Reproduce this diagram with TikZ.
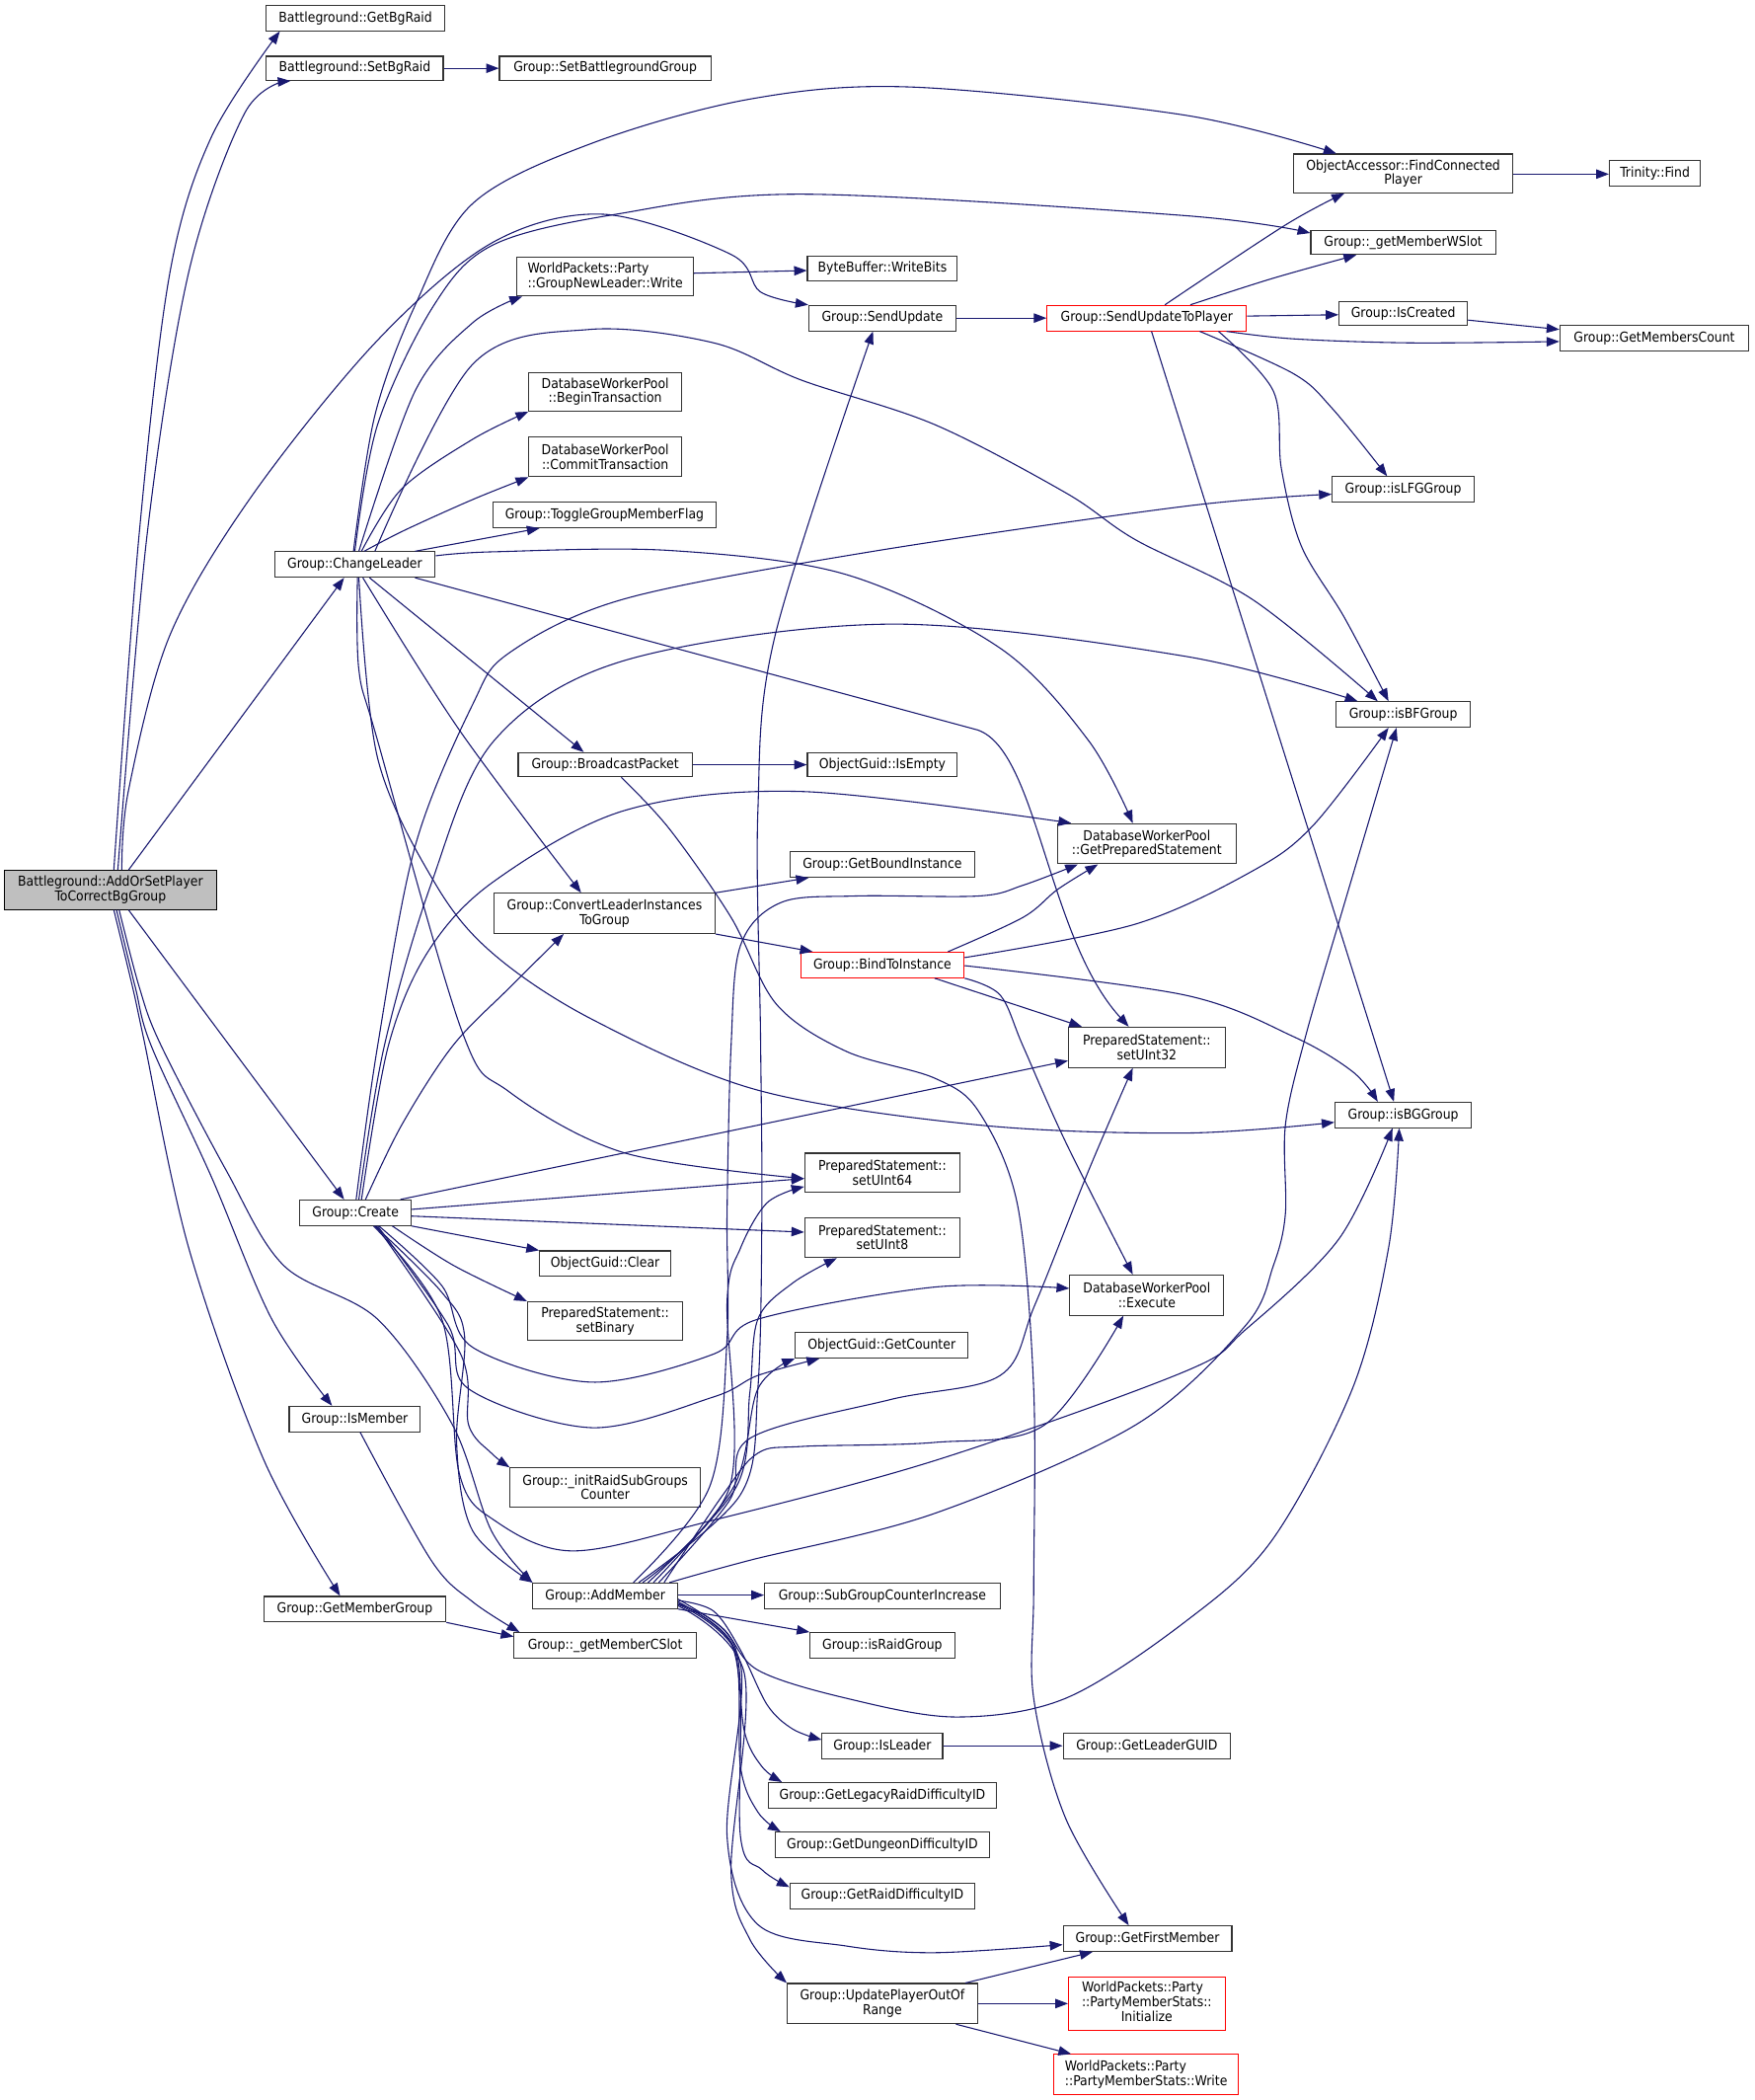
\documentclass[tikz,border=0pt]{standalone}
\usepackage{fontspec}
\newfontfamily\nodefont{DejaVu Sans Condensed}
\usetikzlibrary{arrows.meta}
\definecolor{edgec}{HTML}{191970}
\definecolor{boxc}{HTML}{333333}
\definecolor{rootc}{HTML}{BFBFBF}
\newcommand\mkbox[7][]{\node[box,#1,minimum width={(#5-#3)*1pt},minimum height={(#6-#4)*1pt}] (#2) at ({(#3+#5)/2},{(#4+#6)/2}) {#7};}
\tikzset{
  box/.style={draw=boxc, line width=0.8pt, fill=white, inner sep=0pt, align=center,
    font=\nodefont\fontsize{10.2}{10.8}\selectfont},
  redbox/.style={draw=red},
  rootbox/.style={fill=rootc, draw=black},
  cedge/.style={draw=edgec, line width=0.8pt, -{Triangle[length=9.5pt,width=7pt]}},
  sm/.style={smooth, tension=0.55}
}
\begin{document}
\begin{tikzpicture}[x=1pt,y=-1pt]
\fill[white] (0,0) rectangle (1310,1568);
\useasboundingbox (0,0) rectangle (1310,1568);
% ---------------- nodes ----------------
\mkbox{getbg}{199}{4}{332}{23}{Battleground::GetBgRaid}
\mkbox{setbg}{199}{42}{331}{60}{Battleground::SetBgRaid}
\mkbox{setbgg}{373}{42}{531}{60}{Group::SetBattlegroundGroup}
\mkbox{fcp}{966}{115}{1130}{144}{ObjectAccessor::FindConnected\\Player}
\mkbox{find}{1202}{120}{1270}{139}{Trinity::Find}
\mkbox{wslot}{979}{172}{1117}{190}{Group::\_getMemberWSlot}
\mkbox[align=left]{gnl}{386}{192}{518}{221}{WorldPackets::Party\\::GroupNewLeader::Write}
\mkbox{wbits}{603}{191}{715}{210}{ByteBuffer::WriteBits}
\mkbox{supd}{604}{228}{714}{247}{Group::SendUpdate}
\mkbox[redbox]{sutp}{782}{228}{931}{247}{Group::SendUpdateToPlayer}
\mkbox{created}{1000}{225}{1096}{243}{Group::IsCreated}
\mkbox{mcount}{1165}{243}{1306}{262}{Group::GetMembersCount}
\mkbox{begin}{395}{278}{509}{307}{DatabaseWorkerPool\\::BeginTransaction}
\mkbox{commit}{395}{326}{509}{356}{DatabaseWorkerPool\\::CommitTransaction}
\mkbox{toggle}{368}{375}{535}{394}{Group::ToggleGroupMemberFlag}
\mkbox{lfg}{995}{356}{1101}{375}{Group::isLFGGroup}
\mkbox{cl}{205}{412}{325}{431}{Group::ChangeLeader}
\mkbox{bf}{998}{524}{1098}{543}{Group::isBFGroup}
\mkbox{bcast}{387}{562}{517}{580}{Group::BroadcastPacket}
\mkbox{isempty}{603}{562}{715}{580}{ObjectGuid::IsEmpty}
\mkbox{gps}{790}{615}{923}{645}{DatabaseWorkerPool\\::GetPreparedStatement}
\mkbox{gbi}{590}{636}{728}{655}{Group::GetBoundInstance}
\mkbox[rootbox]{root}{3}{650}{162}{679}{Battleground::AddOrSetPlayer\\ToCorrectBgGroup}
\mkbox{conv}{369}{667}{534}{697}{Group::ConvertLeaderInstances\\ToGroup}
\mkbox[redbox]{bti}{598}{711}{720}{730}{Group::BindToInstance}
\mkbox{u32}{798}{767}{915}{797}{PreparedStatement::\\setUInt32}
\mkbox{bg}{997}{823}{1099}{842}{Group::isBGGroup}
\mkbox{u64}{601}{861}{717}{890}{PreparedStatement::\\setUInt64}
\mkbox{create}{224}{896}{307}{915}{Group::Create}
\mkbox{u8}{601}{909}{717}{939}{PreparedStatement::\\setUInt8}
\mkbox{clear}{403}{934}{501}{953}{ObjectGuid::Clear}
\mkbox{exec}{799}{952}{914}{982}{DatabaseWorkerPool\\::Execute}
\mkbox{binary}{394}{972}{510}{1001}{PreparedStatement::\\setBinary}
\mkbox{counter}{594}{995}{723}{1014}{ObjectGuid::GetCounter}
\mkbox{ismember}{216}{1050}{314}{1069}{Group::IsMember}
\mkbox{initraid}{381}{1096}{523}{1125}{Group::\_initRaidSubGroups\\Counter}
\mkbox{addm}{398}{1182}{506}{1201}{Group::AddMember}
\mkbox{subinc}{571}{1182}{747}{1201}{Group::SubGroupCounterIncrease}
\mkbox{getmg}{197}{1192}{333}{1211}{Group::GetMemberGroup}
\mkbox{cslot}{384}{1219}{520}{1238}{Group::\_getMemberCSlot}
\mkbox{raid}{605}{1219}{713}{1238}{Group::isRaidGroup}
\mkbox{isleader}{614}{1294}{704}{1313}{Group::IsLeader}
\mkbox{leaderguid}{794}{1294}{919}{1313}{Group::GetLeaderGUID}
\mkbox{legacy}{574}{1331}{744}{1350}{Group::GetLegacyRaidDifficultyID}
\mkbox{dungeon}{579}{1368}{739}{1387}{Group::GetDungeonDifficultyID}
\mkbox{raiddiff}{590}{1406}{728}{1425}{Group::GetRaidDifficultyID}
\mkbox{firstm}{794}{1438}{920}{1457}{Group::GetFirstMember}
\mkbox{upoor}{588}{1481}{730}{1511}{Group::UpdatePlayerOutOf\\Range}
\mkbox[redbox]{init}{798}{1476}{915}{1516}{\begin{tabular}{@{}l@{}}WorldPackets::Party\\::PartyMemberStats::\\\multicolumn{1}{@{}c@{}}{Initialize}\end{tabular}}
\mkbox[redbox,align=left]{pmsw}{787}{1534}{925}{1564}{WorldPackets::Party\\::PartyMemberStats::Write}
% ---------------- edges: root ----------------
\draw[cedge] plot[sm] coordinates {(85,0 |- root.north) (104,398) (127,203) (158,102) (209,0 |- getbg.south)};
\draw[cedge] plot[sm] coordinates {(88,0 |- root.north) (110,398) (141,203) (183,84) (217,0 |- setbg.south)};
\draw[cedge] plot[sm] coordinates {(91,0 |- root.north) (96,590) (127,474) (189,369) (282,254) (368,181) (451,160) (546,190) (568,218) (supd.north west)};
\draw[cedge] (96,0 |- root.north) -- (257,0 |- cl.south);
\draw[cedge] (96,0 |- root.south) -- (257,0 |- create.north);
\draw[cedge] plot[sm] coordinates {(87,0 |- root.south) (101,737) (113,781) (158,879) (203,985) (248,0 |- ismember.north)};
\draw[cedge] plot[sm] coordinates {(89,0 |- root.south) (104,737) (120,780) (169,874) (212,945) (282,985) (338,1064) (367,1143) (addm.north west)};
\draw[cedge] plot[sm] coordinates {(85,0 |- root.south) (99,737) (107,774) (141,932) (197,1090) (254,0 |- getmg.north)};
% ---------------- edges: ChangeLeader ----------------
\draw[cedge] plot[sm] coordinates {(264,0 |- cl.north) (280,310) (310,228) (353,152) (442,107) (560,74) (681,65) (885,86) (998,0 |- fcp.north)};
\draw[cedge] plot[sm] coordinates {(265,0 |- cl.north) (282,317) (324,228) (368,183) (460,160) (599,145) (885,161) (wslot.west |- 0,174)};
\draw[cedge] plot[sm] coordinates {(268,0 |- cl.north) (310,292) (353,241) (390,0 |- gnl.south)};
\draw[cedge] plot[sm] coordinates {(270,0 |- cl.north) (300,365) (353,328) (begin.south west)};
\draw[cedge] plot[sm] coordinates {(272,0 |- cl.north) (302,396) (353,373) (commit.south west)};
\draw[cedge] (310,0 |- cl.north) -- (403,0 |- toggle.south);
\draw[cedge] plot[sm] coordinates {(cl.east |- 0,415) (369,412) (500,411) (632,429) (747,484) (813,553) (846,0 |- gps.north)};
\draw[cedge] (310,0 |- cl.south) -- (730,545) .. controls (775,560) and (782,700) .. (843,0 |- u32.north);
\draw[cedge] (276,0 |- cl.south) -- (436,0 |- bcast.north);
\draw[cedge] plot[sm] coordinates {(271,0 |- cl.south) (343,545) (434,0 |- conv.north)};
\draw[cedge] plot[sm] coordinates {(267,0 |- cl.south) (268,500) (282,553) (345,770) (380,815) (467,861) (u64.west |- 0,880)};
\draw[cedge] plot[sm] coordinates {(268,0 |- cl.south) (282,566) (324,658) (367,711) (442,761) (566,814) (731,840) (885,846) (bg.west |- 0,838)};
\draw[cedge] plot[sm] coordinates {(280,0 |- cl.north) (353,272) (440,246) (533,256) (599,284) (698,317) (796,368) (848,403) (936,448) (1029,0 |- bf.north)};
% ---------------- edges: Create ----------------
\draw[cedge] plot[sm] coordinates {(266,0 |- create.north) (282,781) (310,632) (353,526) (381,487) (467,447) (650,412) (885,378) (lfg.west |- 0,369)};
\draw[cedge] plot[sm] coordinates {(268,0 |- create.north) (287,781) (322,660) (369,553) (467,493) (665,466) (885,490) (1014,0 |- bf.north)};
\draw[cedge] plot[sm] coordinates {(270,0 |- create.north) (290,781) (320,710) (369,658) (467,605) (599,591) (800,0 |- gps.north)};
\draw[cedge] plot[sm] coordinates {(273,0 |- create.north) (300,840) (338,781) (381,737) (421,0 |- conv.south)};
\draw[cedge] (299,0 |- create.north) -- (u32.west |- 0,792);
\draw[cedge] (create.east |- 0,903) -- (u64.west |- 0,880);
\draw[cedge] (create.east |- 0,908) -- (u8.west |- 0,920);
\draw[cedge] (create.south east) -- (clear.north west);
\draw[cedge] plot[sm] coordinates {(293,0 |- create.south) (339,945) (binary.north west)};
\draw[cedge] plot[sm] coordinates {(283,0 |- create.south) (330,960) (353,1006) (442,1032) (533,1011) (566,985) (698,961) (exec.west |- 0,962)};
\draw[cedge] plot[sm] coordinates {(282,0 |- create.south) (335,990) (350,1037) (442,1066) (533,1043) (566,1027) (612,0 |- counter.south)};
\draw[cedge] plot[sm] coordinates {(281,0 |- create.south) (344,1011) (350,1064) (367,1085) (initraid.north west)};
\draw[cedge] plot[sm] coordinates {(280,0 |- create.south) (330,965) (347,998) (341,1077) (353,1143) (addm.north west)};
\draw[cedge] plot[sm] coordinates {(279,0 |- create.south) (330,985) (343,1100) (369,1135) (428,1158) (533,1135) (700,1090) (885,1024) (930,993) (1000,925) (1040,0 |- bg.south)};
% ---------------- edges: SendUpdateToPlayer ----------------
\draw[cedge] plot[sm] coordinates {(870,0 |- sutp.north) (960,168) (1004,0 |- fcp.south)};
\draw[cedge] plot[sm] coordinates {(889,0 |- sutp.north) (950,208) (1013,0 |- wslot.south)};
\draw[cedge] (sutp.east |- 0,236) -- (created.west |- 0,235);
\draw[cedge] plot[sm] coordinates {(916,0 |- sutp.south) (966,253) (1054,256) (mcount.west |- 0,255)};
\draw[cedge] plot[sm] coordinates {(896,0 |- sutp.south) (966,279) (995,305) (1036,0 |- lfg.north)};
\draw[cedge] plot[sm] coordinates {(910,0 |- sutp.south) (951,292) (957,350) (972,408) (1004,461) (1037,0 |- bf.north)};
\draw[cedge] (860,0 |- sutp.south) -- (1041,0 |- bg.north);
% ---------------- edges: BindToInstance ----------------
\draw[cedge] plot[sm] coordinates {(708,0 |- bti.north) (764,685) (790,664) (820,0 |- gps.south)};
\draw[cedge] plot[sm] coordinates {(bti.east |- 0,715) (848,690) (936,650) (981,616) (1037,0 |- bf.south)};
\draw[cedge] plot[sm] coordinates {(bti.east |- 0,721) (885,743) (966,774) (1010,800) (1029,0 |- bg.north)};
\draw[cedge] (698,0 |- bti.south) -- (808,0 |- u32.north);
\draw[cedge] plot[sm] coordinates {(bti.south east) (747,743) (764,781) (796,853) (846,0 |- exec.north)};
% ---------------- edges: misc ----------------
\draw[cedge] (conv.north east) -- (604,0 |- gbi.south);
\draw[cedge] (conv.south east) -- (607,0 |- bti.north);
\draw[cedge] (bcast.east) -- (isempty.west);
\draw[cedge] plot[sm] coordinates {(464,0 |- bcast.south) (500,619) (546,685) (580,750) (632,785) (698,805) (731,830) (760,900) (772,1037) (772,1187) (772,1268) (796,1358) (843,0 |- firstm.north)};
\draw[cedge] (gnl.east |- 0,204) -- (wbits.west |- 0,202);
\draw[cedge] (supd.east) -- (sutp.west);
\draw[cedge] (fcp.east |- 0,130) -- (find.west |- 0,130);
\draw[cedge] (created.east |- 0,239) -- (mcount.west |- 0,246);
\draw[cedge] (setbg) -- (setbgg);
\draw[cedge] (isleader) -- (leaderguid);
\draw[cedge] (getmg.south east) -- (cslot.west |- 0,1222);
\draw[cedge] plot[sm] coordinates {(269,0 |- ismember.south) (322,1165) (353,1196) (388,0 |- cslot.north)};
\draw[cedge] (721,0 |- upoor.north) -- (816,0 |- firstm.south);
\draw[cedge] (upoor.east |- 0,1496) -- (init.west |- 0,1496);
\draw[cedge] (714,0 |- upoor.south) -- (800,0 |- pmsw.north);
% ---------------- edges: AddMember ----------------
\draw[cedge] (addm.east |- 0,1191) -- (subinc.west |- 0,1191);
\draw[cedge] (addm.south east) -- (raid.north west);
\draw[cedge] plot[sm] coordinates {(addm.east |- 0,1195) (533,1203) (553,1232) (573,1273) (592,1291) (isleader.west |- 0,1299)};
\draw[cedge] plot[sm] coordinates {(addm.east |- 0,1196) (546,1227) (556,1293) (569,1319) (584,0 |- legacy.north)};
\draw[cedge] plot[sm] coordinates {(addm.east |- 0,1197) (548,1230) (553,1319) (566,1353) (583,0 |- dungeon.north)};
\draw[cedge] plot[sm] coordinates {(addm.east |- 0,1198) (550,1233) (553,1371) (569,1396) (raiddiff.west |- 0,1409)};
\draw[cedge] plot[sm] coordinates {(addm.east |- 0,1198) (553,1242) (543,1371) (566,1437) (632,1453) (698,1458) (firstm.west |- 0,1452)};
\draw[cedge] plot[sm] coordinates {(addm.east |- 0,1199) (556,1250) (546,1396) (560,1448) (upoor.north west)};
\draw[cedge] plot[sm] coordinates {(addm.east |- 0,1194) (540,1216) (566,1247) (632,1268) (714,1282) (796,1268) (885,1211) (950,1150) (1010,1037) (1037,932) (1045,0 |- bg.south)};
\draw[cedge] plot[sm] coordinates {(477,0 |- addm.north) (553,1116) (566,1037) (569,906) (568,774) (566,606) (579,474) (652,0 |- supd.south)};
\draw[cedge] plot[sm] coordinates {(473,0 |- addm.north) (530,1110) (543,1000) (543,906) (546,781) (553,706) (583,674) (639,669) (731,669) (764,661) (805,0 |- gps.south)};
\draw[cedge] plot[sm] coordinates {(480,0 |- addm.north) (545,1110) (543,972) (553,932) (573,898) (u64.west |- 0,886)};
\draw[cedge] plot[sm] coordinates {(484,0 |- addm.north) (550,1110) (560,1040) (566,985) (592,958) (625,0 |- u8.south)};
\draw[cedge] plot[sm] coordinates {(488,0 |- addm.north) (548,1110) (566,1037) (counter.south west)};
\draw[cedge] plot[sm] coordinates {(492,0 |- addm.north) (545,1120) (560,1074) (665,1045) (747,1027) (773,974) (813,874) (846,0 |- u32.south)};
\draw[cedge] plot[sm] coordinates {(496,0 |- addm.north) (540,1116) (566,1085) (599,1080) (698,1077) (780,1064) (839,0 |- exec.south)};
\draw[cedge] plot[sm] coordinates {(500,0 |- addm.north) (560,1165) (698,1130) (848,1064) (930,990) (951,945) (960,906) (960,840) (975,774) (1001,685) (1043,0 |- bf.south)};
\end{tikzpicture}
\end{document}
